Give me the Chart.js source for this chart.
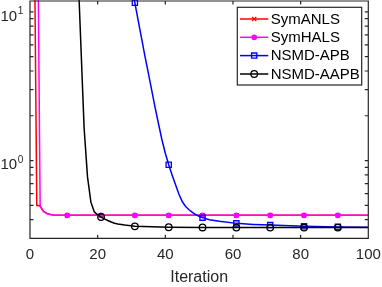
<!DOCTYPE html>
<html>
<head>
<meta charset="utf-8">
<script src="https://cdn.jsdelivr.net/npm/chart.js@4.4.0/dist/chart.umd.min.js"></script>
<style>
html, body { margin: 0; padding: 0; background: #fff; }
canvas { display: block; }
</style>
</head>
<body>
<canvas id="chart" width="382" height="287"></canvas>
<script>
// values (iteration -> objective), points above the top are only there to steer the lines
var anlsIter = [1, 2, 3, 4, 5, 6, 7, 11, 21, 31, 41, 51, 61, 71, 81, 91, 100];
var anlsVal  = [200, 0.5, 0.495, 0.455, 0.44, 0.433, 0.43, 0.428, 0.428, 0.428, 0.428, 0.428, 0.428, 0.428, 0.428, 0.428, 0.428];

var halsIter = [1, 2, 3, 4, 5, 6, 7, 11, 21, 31, 41, 51, 61, 71, 81, 91, 100];
var halsVal  = [200, 200, 0.49, 0.455, 0.44, 0.433, 0.43, 0.428, 0.428, 0.428, 0.428, 0.428, 0.428, 0.428, 0.428, 0.428, 0.428];

var apbIter = [29, 30, 31, 32, 33, 34, 35, 36, 37, 38, 39, 40, 41, 42, 43, 44, 45, 46, 47, 48, 49, 50, 51, 53, 56, 61, 66, 71, 81, 91, 100];
var apbVal  = [20, 15.2, 11.5, 8.7, 6.6, 5.0, 3.85, 2.95, 2.26, 1.76, 1.38, 1.12, 0.936, 0.8, 0.69, 0.595, 0.53, 0.49, 0.467, 0.448, 0.433, 0.422, 0.413, 0.4, 0.39, 0.378, 0.372, 0.368, 0.362, 0.358, 0.356];

var aapbIter = [11, 12, 13, 14, 15, 16, 17, 18, 19, 20, 21, 22, 23, 24, 25, 26, 28, 31, 41, 51, 61, 71, 81, 91, 100];
var aapbVal  = [400, 200, 90, 24, 6.3, 1.65, 0.776, 0.525, 0.452, 0.431, 0.417, 0.405, 0.395, 0.386, 0.379, 0.374, 0.368, 0.361, 0.356, 0.355, 0.354, 0.354, 0.354, 0.354, 0.354];

var seriesNames = ["SymANLS", "SymHALS", "NSMD-APB", "NSMD-AAPB"];
var xTicks = [0, 20, 40, 60, 80, 100];
var yMajorTicks = [1, 10];
var yMinorTicks = [0.4, 0.5, 0.6, 0.7, 0.8, 0.9, 2, 3, 4, 5, 6, 7, 8, 9];

var axisColor = "#262626";
var fontName = "'Liberation Sans', Arial, Helvetica, sans-serif";
var tickLen = 3.5;

var toPoints = function(iters, vals){
    var pts = [];
    for (var i = 0; i < iters.length; i++){
        pts.push({ x: iters[i], y: vals[i] });
    }
    return pts;
};

// markers every 10 iterations, like the matlab plot (1, 11, 21, ...)
var markerAt = function(r){
    return function(ctx){
        return (ctx.raw && ctx.raw.x % 10 === 1) ? r : 0;
    };
};

var makeSeries = function(label, iters, vals, color, style, radius, fill, order){
    return {
        label: label,
        data: toPoints(iters, vals),
        borderColor: color,
        borderWidth: 1.5,
        pointStyle: style,
        pointRadius: markerAt(radius),
        legendRadius: radius,
        pointBorderColor: color,
        pointBackgroundColor: fill,
        pointBorderWidth: 1.3,
        tension: 0,
        order: order,
        clip: { left: 0, top: 1, right: 0, bottom: 0 }
    };
};

var datasets = [
    makeSeries(seriesNames[0], anlsIter, anlsVal, "#FF0000", "crossRot", 3, "#FF0000", 4),
    makeSeries(seriesNames[1], halsIter, halsVal, "#FF00FF", "circle", 2.2, "#FF00FF", 3),
    makeSeries(seriesNames[2], apbIter, apbVal, "#0000FF", "rect", 3.7, "rgba(0,0,0,0)", 2),
    makeSeries(seriesNames[3], aapbIter, aapbVal, "#000000", "circle", 3.3, "rgba(0,0,0,0)", 1)
];

// box, inward ticks and the 10^n labels
var framePlugin = {
    id: "frame",
    afterDatasetsDraw: function(chart){
        var ctx = chart.ctx, a = chart.chartArea;
        var xs = chart.scales.x, ys = chart.scales.y;
        ctx.save();
        ctx.strokeStyle = axisColor;
        ctx.lineWidth = 1.2;
        ctx.beginPath();
        ctx.rect(a.left, a.top, a.right - a.left, a.bottom - a.top);
        xTicks.forEach(function(v){
            var px = xs.getPixelForValue(v);
            ctx.moveTo(px, a.bottom); ctx.lineTo(px, a.bottom - tickLen);
            ctx.moveTo(px, a.top); ctx.lineTo(px, a.top + tickLen);
        });
        yMajorTicks.concat(yMinorTicks).forEach(function(v){
            var py = ys.getPixelForValue(v);
            if (py < a.top || py > a.bottom) return;
            ctx.moveTo(a.left, py); ctx.lineTo(a.left + tickLen, py);
            ctx.moveTo(a.right, py); ctx.lineTo(a.right - tickLen, py);
        });
        ctx.stroke();

        ctx.fillStyle = axisColor;
        ctx.textBaseline = "alphabetic";
        ctx.textAlign = "left";
        yMajorTicks.forEach(function(v){
            var py = ys.getPixelForValue(v);
            var exp = String(Math.round(Math.log10(v)));
            ctx.font = "15px " + fontName;
            var w = ctx.measureText("10").width;
            ctx.fillText("10", 0.5, py + 8.8);
            ctx.font = "10px " + fontName;
            ctx.fillText(exp, 0.5 + w + 0.5, py + 2.5);
        });
        ctx.restore();
    }
};

var legendPlugin = {
    id: "boxLegend",
    afterDraw: function(chart){
        var ctx = chart.ctx;
        var left = 237.3, top = 7.3, right = 361.7, bottom = 85;
        var rowY = [19, 37.3, 55.6, 74];
        ctx.save();
        ctx.fillStyle = "#FFFFFF";
        ctx.fillRect(left, top, right - left, bottom - top);
        ctx.strokeStyle = axisColor;
        ctx.lineWidth = 1.2;
        ctx.strokeRect(left, top, right - left, bottom - top);
        chart.data.datasets.forEach(function(ds, i){
            var y = rowY[i];
            ctx.strokeStyle = ds.borderColor;
            ctx.lineWidth = ds.borderWidth;
            ctx.beginPath();
            ctx.moveTo(240, y); ctx.lineTo(268.3, y);
            ctx.stroke();
            ctx.fillStyle = ds.pointBackgroundColor;
            ctx.strokeStyle = ds.pointBorderColor;
            ctx.lineWidth = ds.pointBorderWidth;
            Chart.helpers.drawPoint(ctx, {
                pointStyle: ds.pointStyle,
                radius: ds.legendRadius,
                borderWidth: ds.pointBorderWidth,
                rotation: 0
            }, 254.2, y);
            ctx.fillStyle = "#000000";
            ctx.font = "15px " + fontName;
            ctx.textAlign = "left";
            ctx.textBaseline = "middle";
            ctx.fillText(ds.label, 270.7, y + 0.5);
        });
        ctx.restore();
    }
};

var ctx = document.getElementById("chart").getContext("2d");
var chart = new Chart(ctx, {
    type: "line",
    data: { datasets: datasets },
    plugins: [framePlugin, legendPlugin],
    options: {
        responsive: false,
        animation: false,
        devicePixelRatio: 1,
        events: [],
        layout: {
            autoPadding: false,
            padding: { left: 0, top: 1, right: 13.7, bottom: 0 }
        },
        plugins: {
            legend: { display: false },
            tooltip: { enabled: false }
        },
        scales: {
            x: {
                type: "linear",
                min: 0,
                max: 100,
                grid: { display: false, drawTicks: false },
                border: { display: false },
                ticks: {
                    stepSize: 20,
                    padding: 7.5,
                    color: axisColor,
                    font: { family: fontName, size: 15 }
                },
                title: {
                    display: true,
                    text: "Iteration",
                    color: axisColor,
                    padding: { top: 0, bottom: 0 },
                    font: { family: fontName, size: 16 }
                },
                afterFit: function(scale){
                    scale.height = 48.7;
                    scale.paddingLeft = 0;
                    scale.paddingRight = 0;
                }
            },
            y: {
                type: "logarithmic",
                min: 0.3193,
                max: 11.82,
                grid: { display: false, drawTicks: false },
                border: { display: false },
                ticks: { display: false },
                afterFit: function(scale){
                    scale.width = 30;
                    scale.paddingTop = 0;
                    scale.paddingBottom = 0;
                }
            }
        }
    }
});
</script>
</body>
</html>
